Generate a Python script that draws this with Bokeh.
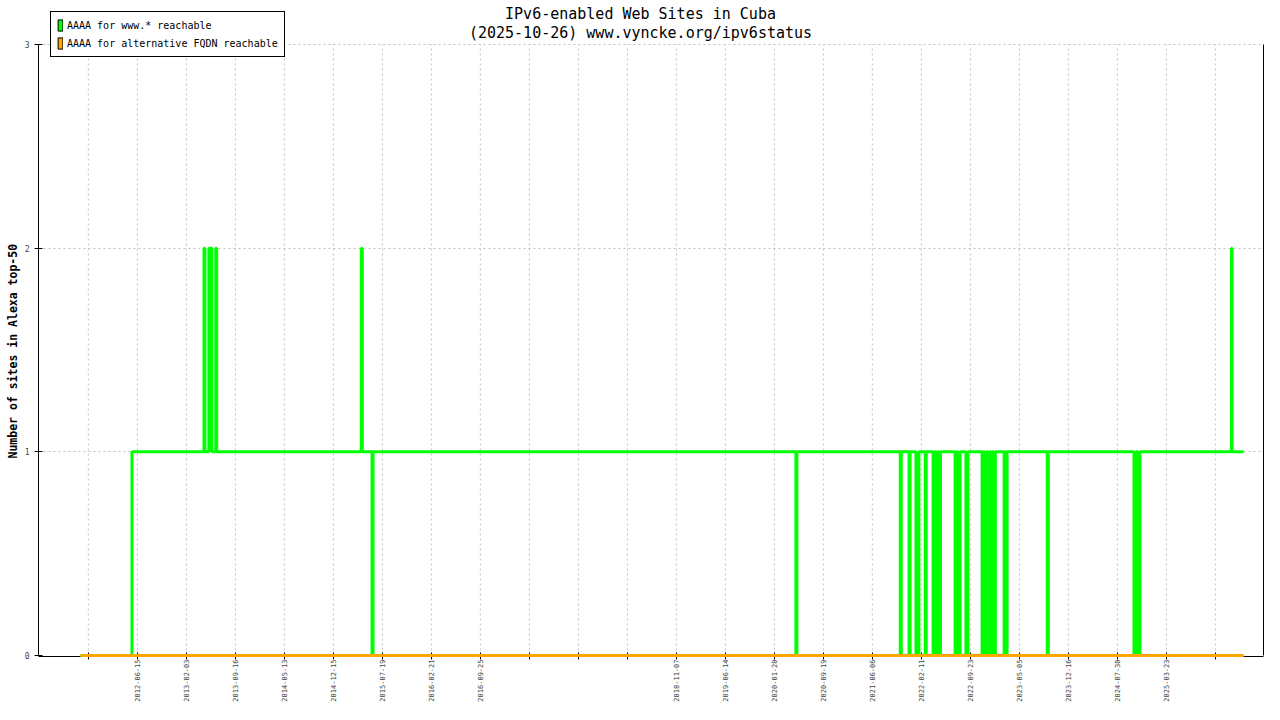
import math
from bokeh.plotting import figure
from bokeh.models import (Range1d, FixedTicker, LinearAxis, Label, Legend,
                          LegendItem, ColumnDataSource, Title)
from bokeh.embed import file_html
from bokeh.resources import INLINE

# ---------------- data ----------------
title_line1 = "IPv6-enabled Web Sites in Cuba"
title_line2 = "(2025-10-26) www.vyncke.org/ipv6status"
y_label = "Number of sites in Alexa top-50"
series_names = ["AAAA for www.* reachable", "AAAA for alternative FQDN reachable"]
series_colors = ["#00ff00", "#ffa500"]

# x axis: sample index; tick positions (sample index) and their date labels
tick_index = [16, 116, 216, 316, 416, 516, 616, 716, 816, 916, 1016, 1116,
              1216, 1316, 1416, 1516, 1616, 1716, 1816, 1916, 2016, 2116, 2216, 2316]
tick_labels = ["", "2012-06-15", "2013-02-03", "2013-09-16", "2014-05-13",
               "2014-12-15", "2015-07-19", "2016-02-21", "2016-09-25", "", "", "",
               "2018-11-07", "2019-06-14", "2020-01-20", "2020-09-19", "2021-06-06",
               "2022-02-11", "2022-09-23", "2023-05-05", "2023-12-16", "2024-07-30",
               "2025-03-23", ""]

y_ticks = [0, 1, 2, 3]
y_grid = [1, 2, 3]

# series 1 (www.* reachable): sample index where the value changes, and new value
www_idx = [0, 105,
           252, 254, 262, 268, 276, 278,
           573, 575,
           595, 597,
           1460, 1462,
           1673, 1675,
           1691, 1693,
           1705, 1711,
           1724, 1726,
           1740, 1743, 1746, 1749, 1752, 1755,
           1785, 1788, 1791, 1795,
           1807, 1811,
           1840, 1843, 1846, 1849, 1852, 1855, 1858, 1861, 1864, 1867,
           1885, 1887, 1889, 1891,
           1973, 1975,
           2150, 2154, 2158, 2162,
           2349, 2350,
           2374]
www_val = [0, 1,
           2, 1, 2, 1, 2, 1,
           2, 1,
           0, 1,
           0, 1,
           0, 1,
           0, 1,
           0, 1,
           0, 1,
           0, 1, 0, 1, 0, 1,
           0, 1, 0, 1,
           0, 1,
           0, 1, 0, 1, 0, 1, 0, 1, 0, 1,
           0, 1, 0, 1,
           0, 1,
           0, 1, 0, 1,
           2, 1,
           1]

# series 2 (alternative FQDN reachable)
alt_idx = [0, 2374]
alt_val = [0, 0]

FONT = "DejaVu Sans Mono"

# ---------------- layout (pixels in the figure) ----------------
W, H = 1264, 704
LEFT, RIGHT = 38, 1263          # frame left/right
Y3_PX, Y0_PX = 44, 655          # where y=3 and y=0 are drawn
FRAME_BOTTOM = 656
UNIT = (Y0_PX - Y3_PX) / 3.0
y_start = -(FRAME_BOTTOM - Y0_PX) / UNIT
y_end = 3 + Y3_PX / UNIT
PX_PER_SAMPLE = 0.49
X0_PX = 80                      # pixel of sample 0
x_start = (LEFT - X0_PX) / PX_PER_SAMPLE
x_end = (RIGHT - X0_PX) / PX_PER_SAMPLE

p = figure(width=W, height=H, output_backend="svg", toolbar_location=None,
           x_range=Range1d(x_start, x_end), y_range=Range1d(y_start, y_end),
           min_border_left=LEFT, min_border_right=W - RIGHT, min_border_top=0,
           min_border_bottom=H - FRAME_BOTTOM, background_fill_color="white",
           border_fill_color="white", outline_line_color=None)

# x axis
xax = p.xaxis[0]
xax.ticker = FixedTicker(ticks=tick_index)
xax.major_label_overrides = {t: lab for t, lab in zip(tick_index, tick_labels)}
xax.major_label_orientation = math.pi / 2
xax.major_tick_in = 4
xax.major_tick_out = 3
xax.minor_tick_line_color = None
xax.major_label_text_font = FONT
xax.major_label_text_font_size = "7px"
xax.major_label_standoff = 0
xax.axis_line_color = "black"
xax.major_tick_line_color = "black"

# y axis
yax = p.yaxis[0]
yax.ticker = FixedTicker(ticks=y_ticks)
yax.bounds = (0, 3)
yax.major_tick_in = 4
yax.major_tick_out = 4
yax.minor_tick_line_color = None
yax.major_label_text_font = FONT
yax.major_label_text_font_size = "8px"
yax.major_label_standoff = 5

# y axis title (vertical), starting 198 px above the frame bottom
p.add_layout(Title(text=y_label, align="left", offset=198, standoff=4,
                   text_font=FONT, text_font_size="11.5px",
                   text_font_style="bold", text_color="black"), "left")

# right axis (line only)
rax = LinearAxis(ticker=FixedTicker(ticks=[]), bounds=(0, 3),
                 major_label_text_font_size="0px",
                 major_tick_line_color=None, minor_tick_line_color=None,
                 axis_line_color="black")
p.add_layout(rax, "right")

# grids
p.xgrid.grid_line_color = None
p.ygrid.ticker = FixedTicker(ticks=y_grid)
p.ygrid.grid_line_color = "#c0c0c0"
p.ygrid.grid_line_dash = "2 3"
p.segment(x0=tick_index, x1=tick_index, y0=[0] * len(tick_index),
          y1=[3] * len(tick_index), line_color="#c0c0c0", line_dash="2 3",
          line_width=1)

# series
g1 = p.step(www_idx, www_val, mode="after", line_color=series_colors[0], line_width=3)
g2 = p.step(alt_idx, alt_val, mode="after", line_color=series_colors[1], line_width=3)
g1.level = "overlay"
g2.level = "overlay"

# legend swatches (boxes); hidden renderers only used for the legend
sw_src = ColumnDataSource(dict(l=[www_idx[0]], r=[www_idx[1]], t=[y_ticks[1]], b=[y_ticks[0]]))
sw = []
for c in series_colors:
    r = p.quad(left="l", right="r", top="t", bottom="b", source=sw_src,
               fill_color=c, line_color="black", line_width=1)
    r.visible = False
    sw.append(r)
legend = Legend(items=[LegendItem(label=n, renderers=[r]) for n, r in zip(series_names, sw)],
                location=(50 - LEFT, FRAME_BOTTOM - 57), glyph_width=6, glyph_height=14,
                label_height=14, label_standoff=4, spacing=4, padding=6, margin=0,
                border_line_color="black", border_line_width=1, border_line_alpha=1,
                background_fill_color="white", background_fill_alpha=1,
                label_text_font=FONT, label_text_font_size="10px",
                label_text_color="black", click_policy="none")
p.add_layout(legend)

# title (two lines)
for txt, yy in ((title_line1, 13), (title_line2, 32)):
    p.add_layout(Label(x=640 - LEFT, y=FRAME_BOTTOM - yy, x_units="screen", y_units="screen",
                       text=txt, text_align="center", text_baseline="middle",
                       text_font=FONT, text_font_size="15px", text_color="black"))

open("out.html", "w").write(file_html(p, INLINE))
